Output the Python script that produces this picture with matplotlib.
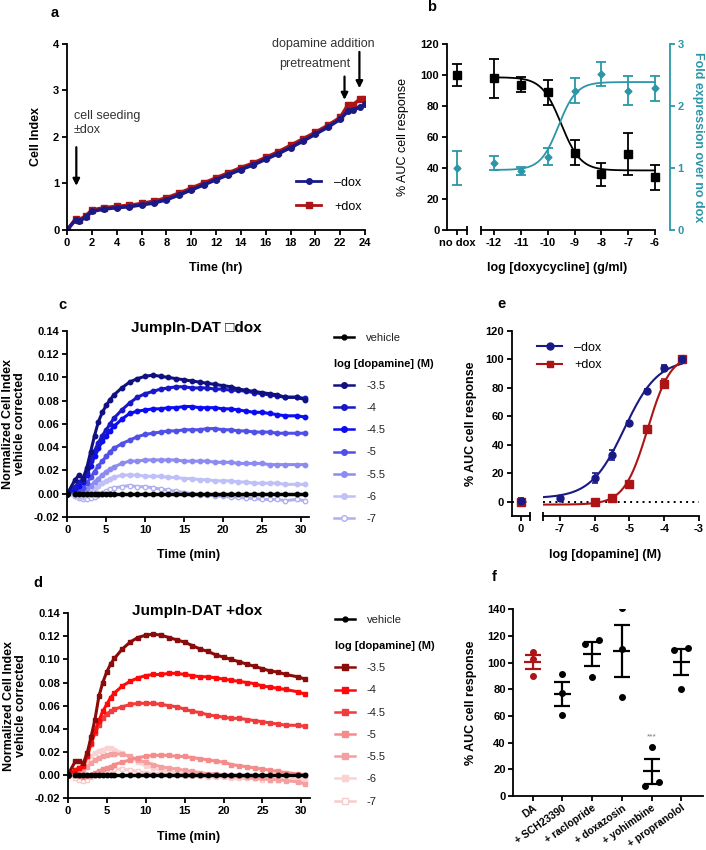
import numpy as np
import matplotlib
matplotlib.use('Agg')
import matplotlib.pyplot as plt
from matplotlib.lines import Line2D

plt.rcParams['font.family'] = ['Liberation Sans', 'DejaVu Sans']
plt.rcParams['font.weight'] = 'bold'
plt.rcParams['axes.labelweight'] = 'bold'
plt.rcParams['font.size'] = 8
plt.rcParams['axes.unicode_minus'] = False

# ---------------- data ----------------
# a: cell index during seeding / pretreatment
time_hr = [0, 0.7, 1.0, 1.5, 2, 3, 4, 5, 6, 7, 8, 9, 10, 11, 12, 13, 14, 15, 16,
           17, 18, 19, 20, 21, 22, 22.6, 23, 23.6, 24]
ci_minus = [0, 0.22, 0.2, 0.27, 0.4, 0.45, 0.48, 0.5, 0.54, 0.58, 0.65, 0.75, 0.86,
            0.97, 1.08, 1.19, 1.3, 1.4, 1.52, 1.64, 1.77, 1.91, 2.06, 2.21, 2.38,
            2.55, 2.58, 2.64, 2.7]
ci_plus = [0, 0.24, 0.22, 0.3, 0.43, 0.48, 0.51, 0.53, 0.57, 0.62, 0.69, 0.79, 0.9,
           1.01, 1.12, 1.23, 1.34, 1.44, 1.56, 1.68, 1.82, 1.96, 2.1, 2.25, 2.42,
           2.68, 2.68, 2.82, 2.82]

# b: doxycycline titration
dox_log = [-12, -11, -10, -9, -8, -7, -6]
auc_nodox, auc_nodox_err = 100, 7
auc_dox = [98, 94, 89, 50, 36, 49, 34]
auc_dox_err = [12.5, 4.6, 8, 8, 7.3, 13.7, 8.3]
fold_nodox, fold_nodox_err = 1.0, 0.28
fold_dox = [1.08, 0.95, 1.185, 2.25, 2.52, 2.25, 2.29]
fold_dox_err = [0.11, 0.065, 0.135, 0.2, 0.19, 0.23, 0.2]
# fitted curves: bottom, top, logEC50, hill slope
auc_fit = (38.5, 98.7, -9.5, -1.2)
fold_fit = (0.97, 2.39, -9.6, 1.3)

# c/d: impedance traces
t_min = [0, 1, 1.5, 2, 2.5, 3, 3.5, 4, 4.5, 5, 5.5, 6, 7, 8, 9, 10, 11, 12, 13, 14,
         15, 16, 17, 18, 19, 20, 21, 22, 23, 24, 25, 26, 27, 28, 29.5, 30.5]
dose_labels = ['-3.5', '-4', '-4.5', '-5', '-5.5', '-6', '-7']
vehicle = [0.0] * 36

c_35 = [0, 0.012, 0.016, 0.013, 0.022, 0.036, 0.05, 0.062, 0.07, 0.076, 0.081, 0.085,
        0.091, 0.096, 0.099, 0.101, 0.102, 0.101, 0.1, 0.099, 0.098, 0.097, 0.096,
        0.095, 0.094, 0.093, 0.092, 0.09, 0.089, 0.088, 0.087, 0.086, 0.085, 0.083,
        0.083, 0.081]
c_40 = [0, 0.006, 0.01, 0.012, 0.018, 0.028, 0.037, 0.044, 0.05, 0.055, 0.06, 0.065,
        0.072, 0.078, 0.083, 0.086, 0.088, 0.09, 0.091, 0.092, 0.092, 0.091, 0.091,
        0.091, 0.09, 0.09, 0.089, 0.089, 0.088, 0.087, 0.086, 0.085, 0.084, 0.083,
        0.083, 0.082]
c_45 = [0, 0.004, 0.007, 0.01, 0.016, 0.024, 0.032, 0.039, 0.045, 0.05, 0.054, 0.058,
        0.064, 0.069, 0.071, 0.072, 0.073, 0.073, 0.074, 0.074, 0.075, 0.075, 0.074,
        0.074, 0.074, 0.073, 0.073, 0.072, 0.071, 0.07, 0.07, 0.069, 0.068, 0.067,
        0.067, 0.066]
c_50 = [0, 0.002, 0.003, 0.005, 0.009, 0.014, 0.019, 0.024, 0.028, 0.032, 0.036, 0.039,
        0.043, 0.046, 0.049, 0.051, 0.052, 0.053, 0.054, 0.054, 0.055, 0.055, 0.055,
        0.056, 0.056, 0.055, 0.055, 0.054, 0.054, 0.053, 0.053, 0.053, 0.052, 0.052,
        0.052, 0.052]
c_55 = [0, 0.0, 0.001, 0.002, 0.004, 0.007, 0.01, 0.013, 0.016, 0.019, 0.021, 0.023,
        0.026, 0.028, 0.028, 0.029, 0.029, 0.029, 0.029, 0.029, 0.028, 0.028, 0.028,
        0.028, 0.027, 0.027, 0.027, 0.026, 0.026, 0.026, 0.026, 0.025, 0.025, 0.025,
        0.025, 0.025]
c_60 = [0, -0.002, -0.003, -0.003, -0.001, 0.001, 0.004, 0.007, 0.009, 0.011, 0.013,
        0.014, 0.016, 0.016, 0.016, 0.015, 0.015, 0.015, 0.014, 0.014, 0.013, 0.013,
        0.012, 0.012, 0.011, 0.011, 0.011, 0.01, 0.01, 0.009, 0.009, 0.009, 0.009,
        0.008, 0.008, 0.008]
c_70 = [0, -0.002, -0.004, -0.005, -0.005, -0.004, -0.003, -0.001, 0.001, 0.002, 0.004,
        0.005, 0.006, 0.007, 0.006, 0.006, 0.005, 0.004, 0.003, 0.002, 0.001, 0.0,
        -0.001, -0.001, -0.002, -0.002, -0.003, -0.003, -0.004, -0.004, -0.005,
        -0.005, -0.005, -0.006, -0.005, -0.006]

d_35 = [0, 0.012, 0.012, 0.01, 0.019, 0.033, 0.048, 0.068, 0.08, 0.089, 0.096, 0.101,
        0.109, 0.115, 0.119, 0.121, 0.122, 0.121, 0.119, 0.117, 0.115, 0.112, 0.109,
        0.107, 0.104, 0.102, 0.1, 0.098, 0.096, 0.094, 0.092, 0.09, 0.089, 0.087,
        0.085, 0.083]
d_40 = [0, 0.004, 0.006, 0.008, 0.016, 0.028, 0.038, 0.047, 0.055, 0.061, 0.067, 0.071,
        0.077, 0.081, 0.084, 0.086, 0.087, 0.087, 0.088, 0.088, 0.087, 0.086, 0.085,
        0.085, 0.084, 0.083, 0.082, 0.081, 0.08, 0.079, 0.077, 0.076, 0.075, 0.074,
        0.072, 0.07]
d_45 = [0, 0.004, 0.006, 0.008, 0.016, 0.027, 0.036, 0.043, 0.049, 0.053, 0.055, 0.057,
        0.059, 0.061, 0.062, 0.062, 0.062, 0.061, 0.06, 0.059, 0.057, 0.055, 0.054,
        0.052, 0.051, 0.05, 0.049, 0.049, 0.048, 0.047, 0.046, 0.045, 0.044, 0.043,
        0.043, 0.042]
d_50 = [0, 0.0, -0.001, -0.002, -0.001, 0.0, 0.002, 0.003, 0.005, 0.006, 0.007, 0.009,
        0.011, 0.013, 0.015, 0.016, 0.017, 0.017, 0.017, 0.016, 0.016, 0.015, 0.014,
        0.013, 0.012, 0.011, 0.009, 0.008, 0.007, 0.006, 0.005, 0.004, 0.003, 0.002,
        0.001, 0.0]
d_55 = [0, 0.003, 0.004, 0.004, 0.007, 0.01, 0.013, 0.015, 0.016, 0.017, 0.018, 0.018,
        0.018, 0.016, 0.013, 0.011, 0.009, 0.007, 0.006, 0.005, 0.004, 0.003, 0.002,
        0.001, 0.001, 0.0, -0.001, -0.001, -0.002, -0.003, -0.003, -0.004, -0.004,
        -0.005, -0.006, -0.008]
d_60 = [0, 0.004, 0.006, 0.008, 0.012, 0.016, 0.019, 0.021, 0.022, 0.023, 0.023, 0.022,
        0.019, 0.015, 0.011, 0.008, 0.006, 0.004, 0.003, 0.002, 0.001, 0.001, 0.0,
        0.0, -0.001, -0.001, -0.002, -0.002, -0.003, -0.003, -0.003, -0.004, -0.004,
        -0.004, -0.005, -0.005]
d_70 = [0, -0.003, -0.004, -0.005, -0.004, -0.002, 0.0, 0.002, 0.003, 0.004, 0.004,
        0.005, 0.005, 0.004, 0.003, 0.002, 0.001, 0.001, 0.0, 0.0, -0.001, -0.001,
        -0.001, -0.002, -0.002, -0.002, -0.003, -0.003, -0.003, -0.003, -0.004,
        -0.004, -0.004, -0.004, -0.004, -0.004]

# e: dopamine concentration-response
da_log = [-7, -6, -5.5, -5, -4.5, -4, -3.5]
resp_minus = [2.8, 17, 33, 55.5, 78, 94, 100]
resp_minus_err = [1.5, 3.5, 3.5, 1.5, 1.5, 2, 0.5]
da_log_plus = [-6, -5.5, -5, -4.5, -4, -3.5]
resp_plus = [-0.5, 3, 12.5, 51, 83, 100]
resp_plus_err = [1, 1, 1.5, 2.5, 3, 0.5]
zero_minus, zero_minus_err = 0.5, 2
zero_plus, zero_plus_err = -0.5, 1
fit_minus = (2.5, 100, -5.15, 0.9)
fit_plus = (-2, 104, -4.48, 1.3)

# f: antagonists
groups = ['DA', '+ SCH23390', '+ raclopride', '+ doxazosin', '+ yohimbine', '+ propranolol']
f_points = [[107.75, 102.75, 90.25],
            [91.25, 77.5, 61],
            [113.75, 116.75, 89],
            [141.25, 110, 74.5],
            [37, 7.75, 10.75],
            [109.5, 110.75, 80.5]]

NAVY = '#1a1a86'
RED = '#ad1416'
TEAL = '#2b96a8'
blues = ['#101080', '#1818c8', '#0b0bf5', '#5050e8', '#8c8cf0', '#c0c0f8', '#b0b0f0']
reds = ['#8b0a0a', '#ff0a0a', '#f03c3c', '#f58c8c', '#f5a0a0', '#fad2d2', '#f8cccc']
LBL = 9


def hill(x, p):
    bottom, top, logec, h = p
    return bottom + (top - bottom) / (1 + 10 ** ((logec - x) * h))


W, H = 706, 850


def px(l, t, r, b):
    return [l / W, 1 - b / H, (r - l) / W, (b - t) / H]


def style(ax, lw=1.3):
    for s in ['top', 'right']:
        ax.spines[s].set_visible(False)
    for s in ['left', 'bottom']:
        ax.spines[s].set_linewidth(lw)
    ax.tick_params(width=lw, length=3.5, pad=2, labelsize=8)


def seg_mark(ax, x):
    ax.plot([x, x], [-0.025, 0.02], transform=ax.transAxes, color='k', lw=1.3,
            clip_on=False, solid_capstyle='butt')


fig = plt.figure(figsize=(7.06, 8.5), dpi=100)

# ---------------- a ----------------
ax = fig.add_axes(px(67, 44, 365, 230))
style(ax)
ax.plot(time_hr, ci_plus, color=RED, marker='s', ms=4, lw=2.5)
ax.plot(time_hr, ci_minus, color=NAVY, marker='o', ms=4, lw=2.5)
ax.set_xlim(0, 24)
ax.set_ylim(0, 4)
ax.set_xticks(range(0, 25, 2))
ax.set_yticks(range(0, 5))
ax.set_xlabel('Time (hr)', fontsize=LBL)
ax.set_ylabel('Cell Index', fontsize=LBL)
ax.xaxis.set_label_coords(0.5, -0.172)
ax.yaxis.set_label_coords(-0.083, 0.5)
arrow = dict(arrowstyle='-|>', color='k', lw=1.6, mutation_scale=10, shrinkA=0, shrinkB=0)
ax.annotate('', xy=(0.75, 0.95), xytext=(0.75, 1.78), arrowprops=arrow)
ax.text(0.55, 2.58, 'cell seeding\n\u00b1dox', ha='left', va='top', fontsize=9,
        fontweight='normal', color='#333333', linespacing=1.25)
ax.annotate('', xy=(22.35, 2.8), xytext=(22.35, 3.3), arrowprops=arrow,
            annotation_clip=False)
ax.text(19.95, 3.56, 'pretreatment', ha='center', va='center', fontsize=9,
        fontweight='normal', color='#333333')
ax.annotate('', xy=(23.55, 3.05), xytext=(23.55, 3.83), arrowprops=arrow,
            annotation_clip=False)
ax.text(16.5, 3.99, 'dopamine addition', ha='left', va='center', fontsize=9,
        fontweight='normal', color='#333333', clip_on=False)
ax.legend(handles=[Line2D([0], [0], color=NAVY, marker='o', ms=4, lw=2),
                   Line2D([0], [0], color=RED, marker='s', ms=4, lw=2)],
          labels=['\u2013dox', '+dox'], loc='center left', bbox_to_anchor=(0.77, 0.19),
          frameon=False, handlelength=2.0, handletextpad=1.0, labelspacing=0.95,
          borderpad=0, borderaxespad=0, prop={'weight': 'normal', 'size': 9})

# ---------------- b ----------------
axL = fig.add_axes(px(447, 44.3, 467, 230))
axR = fig.add_axes(px(480.7, 44.3, 670, 230), sharey=axL)
style(axL)
style(axR)
axR.spines['left'].set_visible(False)
axL.set_xlim(-0.5, 0.5)
axL.set_ylim(0, 120)
axL.set_yticks(range(0, 121, 20))
axL.set_xticks([0])
axL.set_xticklabels(['no dox'])
axR.set_xlim(-12.5, -5.44)
axR.set_xticks(dox_log)
axR.spines['bottom'].set_bounds(-12.5, -6)
seg_mark(axL, 1)
seg_mark(axR, 0)
axLT = axL.twinx()
axRT = axR.twinx()
for a_ in (axLT, axRT):
    for s in ['top', 'left', 'bottom', 'right']:
        a_.spines[s].set_visible(False)
    a_.set_ylim(0, 3)
axR.tick_params(axis='y', left=False, labelleft=False, right=False, labelright=False)
axLT.set_yticks([])
axLT.tick_params(left=False, right=False, labelleft=False, labelright=False)
axRT.spines['right'].set_visible(True)
axRT.spines['right'].set_color(TEAL)
axRT.spines['right'].set_linewidth(1.3)
axRT.set_yticks([0, 1, 2, 3])
axRT.tick_params(axis='y', colors=TEAL, width=1.3, length=3.5, pad=2, labelsize=8,
                 left=False, labelleft=False)
axRT.set_ylabel('Fold expression over no dox', color=TEAL, rotation=270,
                va='center', fontsize=LBL)
axRT.yaxis.set_label_coords(1.148, 0.5)

xs = np.linspace(-12, -6, 200)
axR.plot(xs, hill(xs, auc_fit), color='k', lw=1.3)
axRT.plot(xs, hill(xs, fold_fit), color=TEAL, lw=1.3)
eb = dict(capsize=3.5, elinewidth=1.3, capthick=1.3, linestyle='none')
axR.errorbar(dox_log, auc_dox, yerr=auc_dox_err, fmt='s', color='k', ms=6, **eb)
axL.errorbar([0], [auc_nodox], yerr=[auc_nodox_err], fmt='s', color='k', ms=6, **eb)
axRT.errorbar(dox_log, fold_dox, yerr=fold_dox_err, fmt='D', color=TEAL, ms=3.5, **eb)
axLT.errorbar([0], [fold_nodox], yerr=[fold_nodox_err], fmt='D', color=TEAL, ms=3.5, **eb)
axL.set_ylabel('% AUC cell response', fontsize=LBL, fontweight='normal')
axL.yaxis.set_label_coords(-1.9, 0.5)
axR.set_xlabel('log [doxycycline] (g/ml)', fontsize=LBL)
axR.xaxis.set_label_coords(0.403, -0.172)


# ---------------- c / d ----------------
def kinetics(box, series, colors, marker, title, legend_y, xlab_y):
    ax = fig.add_axes(px(*box))
    style(ax)
    handles = []
    for i in range(len(series) - 1, -1, -1):
        open_m = i == len(series) - 1
        ax.plot(t_min, series[i], color=colors[i], lw=2.2, marker=marker, ms=3.2,
                mfc='white' if open_m else colors[i], mew=1)
    for i in range(len(series)):
        open_m = i == len(series) - 1
        handles.append(Line2D([0], [0], color=colors[i], lw=1.8, marker=marker, ms=4,
                              mfc='white' if open_m else colors[i], mew=1))
    ax.plot(t_min[1:], vehicle[1:], color='k', lw=2.5, marker='o', ms=3.2)
    ax.plot(t_min[:1], vehicle[:1], color='k', marker='o', ms=4)
    ax.set_xlim(0, 31.1)
    ax.set_ylim(-0.02, 0.14)
    ax.set_xticks(range(0, 31, 5))
    ax.set_yticks(np.round(np.arange(-0.02, 0.141, 0.02), 2))
    ax.set_yticklabels(['%.2f' % v for v in np.arange(-0.02, 0.141, 0.02)])
    ax.set_xlabel('Time (min)', fontsize=LBL)
    ax.set_ylabel('Normalized Cell Index\nvehicle corrected', fontsize=LBL,
                  linespacing=1.0)
    ax.xaxis.set_label_coords(0.5, xlab_y)
    ax.yaxis.set_label_coords(-0.17, 0.5)
    ax.text(0.535, 1.015, title, transform=ax.transAxes, ha='center', va='center',
            fontsize=11)
    common = dict(frameon=False, handlelength=1.8, handletextpad=1.1,
                  borderpad=0, borderaxespad=0, prop={'weight': 'normal', 'size': 8})
    leg1 = ax.legend(handles=[Line2D([0], [0], color='k', lw=1.8, marker='o', ms=3.5)],
                     labels=['vehicle'], loc='center left',
                     bbox_to_anchor=(1.102, legend_y[0]), **common)
    ax.add_artist(leg1)
    leg2 = ax.legend(handles=handles, labels=dose_labels, title='log [dopamine] (M)',
                     alignment='left', loc='upper left', labelspacing=1.1,
                     title_fontproperties={'weight': 'bold', 'size': 8},
                     bbox_to_anchor=(1.102, legend_y[1]), **common)
    for txt in leg1.get_texts() + leg2.get_texts():
        txt.set_color('#222222')
    return ax


kinetics((67.3, 331, 309.3, 516.9), [c_35, c_40, c_45, c_50, c_55, c_60, c_70], blues,
         'o', 'JumpIn-DAT \u25a1dox', (0.962, 0.852), -0.173)
kinetics((67.7, 613.3, 310, 798), [d_35, d_40, d_45, d_50, d_55, d_60, d_70], reds,
         's', 'JumpIn-DAT +dox', (0.962, 0.85), -0.179)

# ---------------- e ----------------
eL = fig.add_axes(px(511.7, 331, 530, 516))
eR = fig.add_axes(px(543.3, 331, 699, 516), sharey=eL)
style(eL)
style(eR)
eR.spines['left'].set_visible(False)
eR.tick_params(axis='y', left=False, labelleft=False)
eL.set_ylim(-10, 120)
eL.set_yticks(range(0, 121, 20))
eL.set_xlim(-0.26, 0.27)
eL.set_xticks([0])
eR.set_xlim(-7.48, -3)
eR.set_xticks(range(-7, -2))
seg_mark(eL, 1)
seg_mark(eR, 0)
for a_ in (eL, eR):
    a_.axhline(0, color='k', ls=(0, (1, 2.2)), lw=1.4, zorder=1)
xs = np.linspace(-7.5, -3.5, 200)
eR.plot(xs, hill(xs, fit_minus), color=NAVY, lw=1.5)
eR.plot(xs, hill(xs, fit_plus), color=RED, lw=1.5)
eb2 = dict(capsize=2.5, elinewidth=1.2, capthick=1.2, linestyle='none')
eR.errorbar(da_log_plus, resp_plus, yerr=resp_plus_err, fmt='s', color=RED, ms=5.3, **eb2)
eR.errorbar(da_log, resp_minus, yerr=resp_minus_err, fmt='o', color=NAVY, ms=5, **eb2)
eL.errorbar([0], [zero_plus], yerr=[zero_plus_err], fmt='s', color=RED, ms=5.3, **eb2)
eL.errorbar([0], [zero_minus], yerr=[zero_minus_err], fmt='o', color=NAVY, ms=5, **eb2)
eL.set_ylabel('% AUC cell response', fontsize=LBL)
eL.yaxis.set_label_coords(-1.9, 0.5)
eR.set_xlabel('log [dopamine] (M)', fontsize=LBL)
eR.xaxis.set_label_coords(0.396, -0.178)
eR.legend(handles=[Line2D([0], [0], color=NAVY, marker='o', ms=5, lw=1.5),
                   Line2D([0], [0], color=RED, marker='s', ms=5, lw=1.5)],
          labels=['\u2013dox', '+dox'], loc='center left',
          bbox_to_anchor=(537 / W, 1 - 356.5 / H), bbox_transform=fig.transFigure,
          frameon=False, handlelength=2.0, handletextpad=1.0, labelspacing=0.45,
          borderpad=0, borderaxespad=0, prop={'weight': 'normal', 'size': 9})

# ---------------- f ----------------
fx = fig.add_axes(px(513.3, 609.3, 702.7, 796))
style(fx)
jitter = [[0, 0, 0], [0, 0, 0], [-0.236, 0.236, 0], [0, 0, 0], [0, -0.236, 0.236],
          [-0.236, 0.236, 0]]
for i, pts in enumerate(f_points):
    col = RED if i == 0 else 'k'
    pts = np.array(pts)
    m = pts.mean()
    sem = pts.std(ddof=1) / np.sqrt(len(pts))
    fx.plot([i - 0.29, i + 0.29], [m, m], color=col, lw=1.6, solid_capstyle='butt')
    fx.errorbar([i], [m], yerr=[sem], fmt='none', ecolor=col, elinewidth=1.6,
                capsize=6, capthick=1.6)
    fx.plot(np.array(jitter[i]) + i, pts, 'o', color=col, ms=4, zorder=3)
fx.text(4, 44.5, '***', ha='center', va='center', fontsize=6, fontweight='normal',
        color='#777777')
fx.set_xlim(-0.65, 5.72)
fx.set_ylim(0, 140)
fx.set_yticks(range(0, 141, 20))
fx.set_xticks(range(len(groups)))
fx.set_xticklabels(groups, rotation=35, ha='right', rotation_mode='anchor',
                   fontsize=7.5)
fx.tick_params(axis='x', pad=1.5)
fx.set_ylabel('% AUC cell response', fontsize=LBL)
fx.yaxis.set_label_coords(-0.192, 0.5)

# panel letters
for letter, (x, y) in {'a': (55, 13), 'b': (432, 7), 'c': (62, 305), 'e': (502, 304),
                       'd': (38, 583), 'f': (494, 577)}.items():
    fig.text(x / W, 1 - y / H, letter, ha='center', va='center', fontsize=10.5,
             fontweight='bold')

fig.savefig('out.png', dpi=100)
